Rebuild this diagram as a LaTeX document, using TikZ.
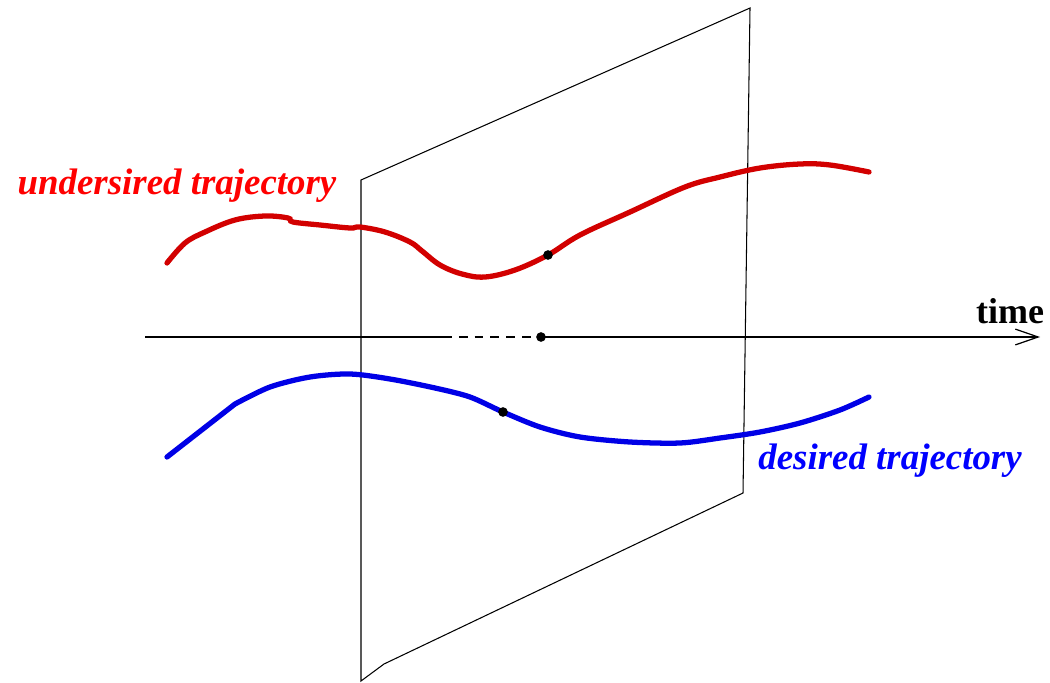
\documentclass[tikz,border=0pt]{standalone}
\usepackage{fontspec}
\setmainfont{Liberation Serif}
\usepackage{tikz}
\usetikzlibrary{arrows.meta}

\definecolor{trajred}{RGB}{210,0,0}
\definecolor{labred}{RGB}{255,0,0}
\definecolor{trajblue}{RGB}{0,0,230}
\definecolor{labblue}{RGB}{0,0,255}

\begin{document}
\begin{tikzpicture}[x=0.02cm, y=-0.02cm, >={Straight Barb[length=13pt,width=9pt]}]
  \useasboundingbox (0,0) rectangle (1050,682);
  % plane (section)
  \coordinate (tl) at (361,180);
  \coordinate (tr) at (750,8);
  \coordinate (br) at (743,493);
  \coordinate (bk) at (384,664);
  \coordinate (bl) at (361,681);
  \draw[line width=0.6pt] (tl) -- (tr) -- (br) -- (bk) -- (bl) -- cycle;
  % time axis
  \coordinate (ta) at (145,337);
  \coordinate (tb) at (443,337);
  \coordinate (tc) at (541,337);
  \coordinate (td) at (1040,337);
  \draw[line width=0.7pt] (ta) -- (tb);
  \draw[line width=0.7pt, dashed, dash pattern=on 5pt off 4pt] (tb) -- (tc);
  \draw[line width=0.7pt, ->] (tc) -- (td);
  \node[font=\fontsize{20.5}{24}\selectfont\bfseries] (tlab) at (1010,311) {time};
  \node[circle, fill, inner sep=0pt, minimum size=5.5pt] (t0) at (tc) {};
  % undesired trajectory
  \draw[trajred, line width=3pt, line cap=round] plot[smooth, tension=0.6] coordinates {
    (167,263) (185,243) (205,232) (235,220) (265,216) (288,218) (293,222)
    (320,225) (350,228) (360,227) (385,232) (410,242) (422,251) (440,265)
    (462,274) (485,277) (515,270) (548,255) (580,235) (630,212)
    (685,187) (720,177) (760,168) (800,164) (830,165) (869,172)};
  \node[circle, fill, inner sep=0pt, minimum size=5.5pt] (r0) at (548,255) {};
  \node[text=labred, font=\fontsize{21}{24}\selectfont\bfseries\itshape] (ulab) at (177,186) {undersired trajectory};
  % desired trajectory
  \draw[trajblue, line width=3pt, line cap=round] (167,457) -- plot[smooth, tension=0.5] coordinates {
    (235,404) (270,387) (310,377) (350,374)
    (390,379) (435,388) (470,397) (503,412) (540,427) (580,437)
    (630,442) (680,443) (720,438) (760,432) (800,423) (840,410) (869,397)};
  \node[circle, fill, inner sep=0pt, minimum size=5.5pt] (b0) at (503,412) {};
  \node[text=labblue, font=\fontsize{21}{24}\selectfont\bfseries\itshape] (dlab) at (890,461) {desired trajectory};
\end{tikzpicture}
\end{document}
